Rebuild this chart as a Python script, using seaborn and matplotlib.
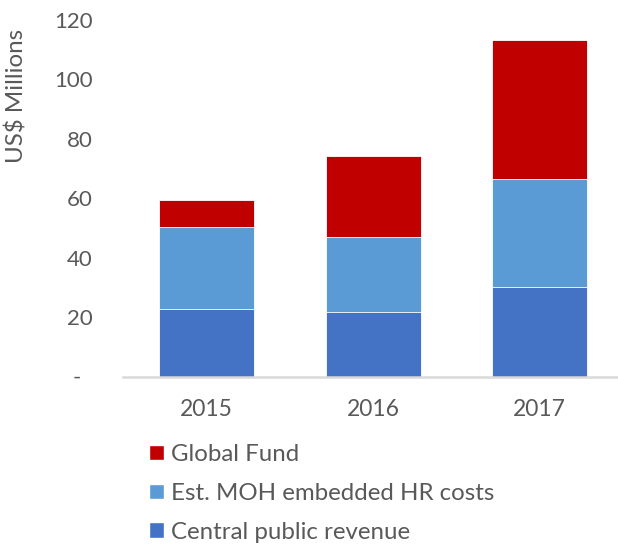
import pandas as pd
import matplotlib
matplotlib.use('Agg')
import matplotlib.pyplot as plt
import seaborn as sns
from matplotlib.patches import Patch

sns.set_style('white')
plt.rcParams['font.family'] = ['Lato', 'DejaVu Sans']

# Datos (US$ millones)
years = ['2015', '2016', '2017']
central_public = [22.6, 21.6, 30.0]
moh_hr = [27.6, 25.4, 36.6]
global_fund = [9.1, 27.1, 46.7]

series_names = ['Central public revenue', 'Est. MOH embedded HR costs', 'Global Fund']
colors = ['#4472C4', '#5B9BD5', '#C00000']
ytick_vals = [0, 20, 40, 60, 80, 100, 120]
ytick_labels = ['-  ', '20', '40', '60', '80', '100', '120']

df = pd.DataFrame({'year': years,
                   series_names[0]: central_public,
                   series_names[1]: moh_hr,
                   series_names[2]: global_fund})
cum = df[series_names].cumsum(axis=1)

text_col = '#595959'
fig = plt.figure(figsize=(6.18, 5.45), dpi=100)
ax = fig.add_axes([123 / 618, 1 - 376.5 / 545, 495 / 618, 356.5 / 545])

# dibujar de arriba hacia abajo para apilar
for name, col in reversed(list(zip(series_names, colors))):
    sns.barplot(x=df['year'], y=cum[name], color=col, width=0.57,
                saturation=1, edgecolor='white', linewidth=0.6, ax=ax)

ax.set_xlim(-0.5, 2.47)
ax.set_ylim(0, 120)
ax.set_yticks(ytick_vals)
ax.set_yticklabels(ytick_labels)
ax.tick_params(axis='y', length=0, pad=22, labelsize=16, labelcolor=text_col)
ax.tick_params(axis='x', length=0, pad=16, labelsize=16.5, labelcolor=text_col)
ax.set_xlabel('')
ax.set_ylabel('US$ Millions', fontsize=17.4, color=text_col)
ax.yaxis.set_label_coords(-0.192, 0.787)

for s in ['top', 'right', 'left']:
    ax.spines[s].set_visible(False)
ax.spines['bottom'].set_color('#D9D9D9')
ax.spines['bottom'].set_linewidth(1.8)

handles = [Patch(facecolor=c, label=n) for n, c in zip(series_names, colors)][::-1]
leg = fig.legend(handles=handles, loc='upper left', bbox_to_anchor=(149 / 618, 1 - 444 / 545),
                 frameon=False, fontsize=17.3, handlelength=0.62, handleheight=0.62,
                 handletextpad=0.3, labelspacing=0.74, borderaxespad=0, borderpad=0)
for t in leg.get_texts():
    t.set_color(text_col)

plt.savefig('out.png', dpi=100, facecolor='white')
